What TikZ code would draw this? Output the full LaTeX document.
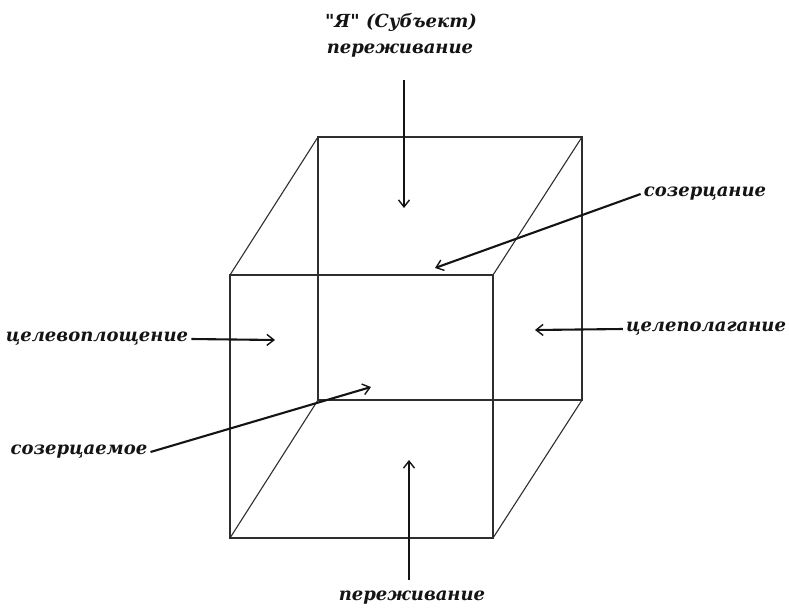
\documentclass[tikz,border=0pt]{standalone}
\usepackage{fontspec}
\newfontfamily\labelfont{DejaVu Serif}
\usetikzlibrary{arrows.meta,positioning,calc}
\definecolor{Ink}{HTML}{141414}
\definecolor{Edge}{HTML}{2E2E2E}
\tikzset{
  label/.style={font=\labelfont\fontsize{18}{21}\selectfont\bfseries\itshape,text=Ink,inner sep=3pt},
  edge/.style={draw=Edge,line width=1.1pt},
  arrow/.style={-{Straight Barb[length=7pt,width=11pt,line width=1.4pt]},line width=2.1pt,draw=Ink}
}
\begin{document}
\begin{tikzpicture}[x=1pt,y=-1pt]
  \useasboundingbox (0,0) rectangle (789,610);
  % cube corners
  \coordinate (fa) at (230,275); \coordinate (fb) at (493,275);
  \coordinate (fc) at (493,538); \coordinate (fd) at (230,538);
  \coordinate (ba) at (318,137); \coordinate (bb) at (582,137);
  \coordinate (bc) at (582,400); \coordinate (bd) at (318,400);
  \draw[edge] (fa)--(fb)--(fc)--(fd)--cycle;
  \draw[edge] (ba)--(bb)--(bc)--(bd)--cycle;
  \draw[edge] (fa)--(ba) (fb)--(bb) (fc)--(bc) (fd)--(bd);
  % labels
  \node[label] (subj) at (401,22) {"Я" (Субъект)};
  \node[label] (expTop) at (400,51) {переживание};
  \node[label] (contA) at (705,194) {созерцание};
  \node[label] (embod) at (97,339) {целевоплощение};
  \node[label] (goal) at (706,329) {целеполагание};
  \node[label] (contB) at (79,452) {созерцаемое};
  \node[label] (expBot) at (412,598) {переживание};
  % arrow ends
  \coordinate (topStart) at (404,80); \coordinate (topEnd) at (404,208);
  \coordinate (contAEnd) at (435,268);
  \coordinate (embodEnd) at (275,340);
  \coordinate (goalEnd) at (535,330);
  \coordinate (contBEnd) at (371,387);
  \coordinate (botStart) at (409,580); \coordinate (botEnd) at (409,460);
  \draw[arrow] (topStart)--(topEnd);
  \draw[arrow] (contA.west)--(contAEnd);
  \draw[arrow] (embod.east)--(embodEnd);
  \draw[arrow] (goal.west)--(goalEnd);
  \draw[arrow] (contB.east)--(contBEnd);
  \draw[arrow] (botStart)--(botEnd);
\end{tikzpicture}
\end{document}
